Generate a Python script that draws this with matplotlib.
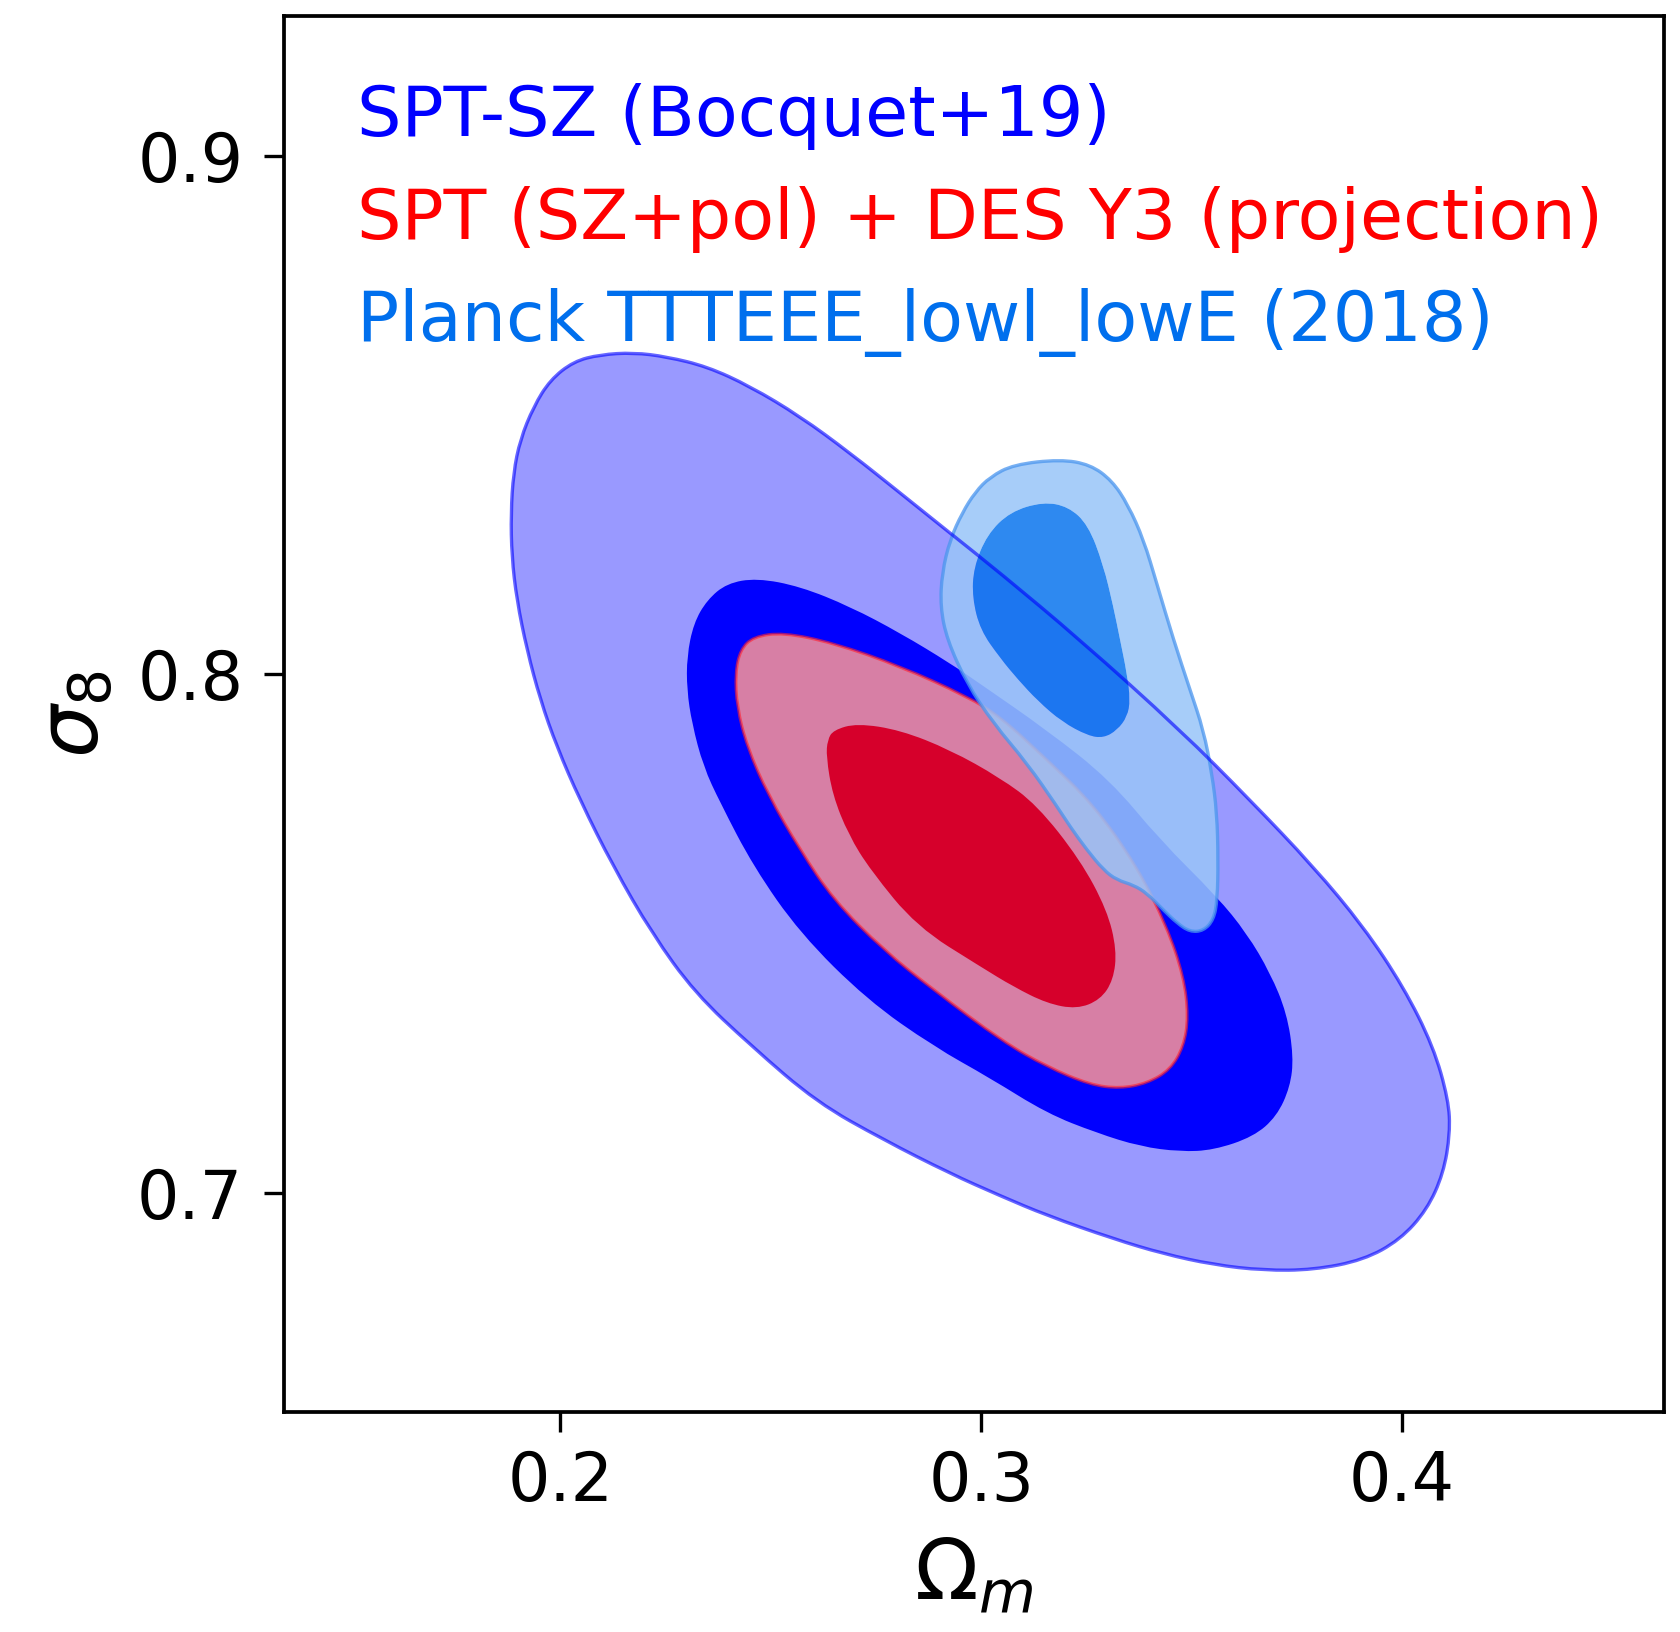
import numpy as np
import matplotlib.pyplot as plt
from matplotlib.path import Path
from matplotlib.patches import PathPatch

# contour outlines: (Omega_m, sigma_8)
spt_sz_2s_om = [0.2032, 0.2095, 0.2174, 0.2253, 0.2349, 0.2451, 0.2570, 0.2689, 0.2808, 0.2926,
                0.3045, 0.3235, 0.3473, 0.3639, 0.3789, 0.3908, 0.4003, 0.4074, 0.4110, 0.4114,
                0.4098, 0.4059, 0.3995, 0.3908, 0.3789, 0.3671, 0.3552, 0.3433, 0.3314, 0.3156,
                0.3045, 0.2926, 0.2768, 0.2610, 0.2455, 0.2320, 0.2218, 0.2126, 0.2047, 0.1992,
                0.1953, 0.1921, 0.1897, 0.1885, 0.1883, 0.1889, 0.1905, 0.1937, 0.1976]
spt_sz_2s_s8 = [0.8603, 0.8616, 0.8620, 0.8612, 0.8593, 0.8555, 0.8497, 0.8426, 0.8349, 0.8272,
                0.8195, 0.8066, 0.7892, 0.7757, 0.7629, 0.7513, 0.7397, 0.7282, 0.7179, 0.7115,
                0.7037, 0.6967, 0.6909, 0.6870, 0.6851, 0.6850, 0.6861, 0.6882, 0.6911, 0.6956,
                0.6994, 0.7037, 0.7102, 0.7174, 0.7282, 0.7385, 0.7500, 0.7629, 0.7757, 0.7860,
                0.7950, 0.8047, 0.8143, 0.8227, 0.8310, 0.8388, 0.8452, 0.8516, 0.8567]

spt_sz_1s_om = [0.2396, 0.2467, 0.2570, 0.2689, 0.2808, 0.2926, 0.2998, 0.3156, 0.3306, 0.3425,
                0.3560, 0.3631, 0.3687, 0.3726, 0.3742, 0.3734, 0.3702, 0.3647, 0.3552, 0.3473,
                0.3378, 0.3275, 0.3156, 0.3021, 0.2887, 0.2729, 0.2570, 0.2459, 0.2380, 0.2340,
                0.2313, 0.2301, 0.2301, 0.2317, 0.2349]
spt_sz_1s_s8 = [0.8175, 0.8185, 0.8169, 0.8130, 0.8079, 0.8021, 0.7981, 0.7892, 0.7796, 0.7680,
                0.7571, 0.7500, 0.7423, 0.7346, 0.7262, 0.7204, 0.7147, 0.7108, 0.7082, 0.7079,
                0.7089, 0.7115, 0.7153, 0.7221, 0.7282, 0.7372, 0.7500, 0.7629, 0.7752, 0.7822,
                0.7905, 0.7970, 0.8034, 0.8098, 0.8143]

des_2s_om = [0.2459, 0.2530, 0.2649, 0.2808, 0.2966, 0.3045, 0.3156, 0.3267, 0.3370, 0.3441,
             0.3481, 0.3492, 0.3481, 0.3449, 0.3394, 0.3330, 0.3259, 0.3156, 0.3052, 0.2887,
             0.2768, 0.2649, 0.2570, 0.2494, 0.2444, 0.2420, 0.2416, 0.2428]
des_2s_s8 = [0.8072, 0.8080, 0.8060, 0.8015, 0.7957, 0.7918, 0.7835, 0.7748, 0.7629, 0.7513,
             0.7417, 0.7339, 0.7282, 0.7237, 0.7211, 0.7201, 0.7208, 0.7243, 0.7291, 0.7391,
             0.7468, 0.7565, 0.7661, 0.7767, 0.7860, 0.7937, 0.8002, 0.8047]

des_1s_om = [0.2649, 0.2705, 0.2808, 0.2926, 0.3045, 0.3132, 0.3235, 0.3299, 0.3322, 0.3314,
             0.3283, 0.3227, 0.3156, 0.3077, 0.2998, 0.2847, 0.2737, 0.2685, 0.2647, 0.2632,
             0.2635]
des_1s_s8 = [0.7892, 0.7905, 0.7892, 0.7854, 0.7800, 0.7748, 0.7642, 0.7545, 0.7468, 0.7410,
             0.7372, 0.7354, 0.7365, 0.7397, 0.7436, 0.7513, 0.7622, 0.7690, 0.7767, 0.7841,
             0.7873]

planck_2s_om = [0.3077, 0.3188, 0.3259, 0.3311, 0.3349, 0.3386, 0.3417, 0.3457, 0.3496, 0.3528,
                0.3548, 0.3560, 0.3563, 0.3561, 0.3552, 0.3528, 0.3496, 0.3465, 0.3433, 0.3394,
                0.3362, 0.3322, 0.3291, 0.3251, 0.3211, 0.3180, 0.3109, 0.3029, 0.2966, 0.2919,
                0.2903, 0.2907, 0.2926, 0.2955, 0.2986, 0.3021]
planck_2s_s8 = [0.8404, 0.8414, 0.8404, 0.8373, 0.8326, 0.8259, 0.8175, 0.8066, 0.7970, 0.7892,
                0.7809, 0.7732, 0.7642, 0.7565, 0.7526, 0.7505, 0.7503, 0.7520, 0.7545, 0.7577,
                0.7593, 0.7603, 0.7622, 0.7661, 0.7706, 0.7745, 0.7828, 0.7905, 0.7982, 0.8066,
                0.8130, 0.8195, 0.8259, 0.8311, 0.8351, 0.8380]

planck_1s_om = [0.3069, 0.3147, 0.3207, 0.3254, 0.3290, 0.3314, 0.3330, 0.3346, 0.3354, 0.3347,
                0.3323, 0.3291, 0.3254, 0.3192, 0.3135, 0.3088, 0.3045, 0.2998, 0.2979, 0.2982,
                0.3014]
planck_1s_s8 = [0.8313, 0.8332, 0.8323, 0.8288, 0.8211, 0.8130, 0.8066, 0.8002, 0.7950, 0.7918,
                0.7892, 0.7877, 0.7881, 0.7908, 0.7948, 0.7989, 0.8031, 0.8085, 0.8147, 0.8205,
                0.8269]

labels = ["SPT-SZ (Bocquet+19)",
          "SPT (SZ+pol) + DES Y3 (projection)",
          "Planck TTTEEE_lowl_lowE (2018)"]
label_colors = ["#0000ff", "#ff0000", "#006FED"]

x_ticks = [0.2, 0.3, 0.4]
y_ticks = [0.7, 0.8, 0.9]


def contour_path(xs, ys):
    # closed smooth outline: traced points act as quadratic bezier control points
    v = np.column_stack([xs, ys])
    mids = 0.5 * (v + np.roll(v, -1, axis=0))
    verts = [mids[-1]]
    codes = [Path.MOVETO]
    for p, m in zip(v, mids):
        verts += [p, m]
        codes += [Path.CURVE3, Path.CURVE3]
    verts.append(mids[-1])
    codes.append(Path.CLOSEPOLY)
    return Path(verts, codes)


def fill(ax, path, **kw):
    ax.add_patch(PathPatch(path, **kw))


fig = plt.figure(figsize=(5.6, 5.44), dpi=300)
ax = fig.add_axes([0.16905, 0.1348, 0.82143, 0.85539])

# SPT-SZ
spt2 = contour_path(spt_sz_2s_om, spt_sz_2s_s8)
spt1 = contour_path(spt_sz_1s_om, spt_sz_1s_s8)
fill(ax, spt2, facecolor="#9999ff", lw=0, zorder=1)
fill(ax, spt1, facecolor="#0000ff", lw=0, zorder=2)

# SPT + DES projection
des2 = contour_path(des_2s_om, des_2s_s8)
des1 = contour_path(des_1s_om, des_1s_s8)
fill(ax, des2, facecolor="#d77fa5", lw=0, zorder=3)
fill(ax, des1, facecolor="#d6002b", lw=0, zorder=4)
fill(ax, des2, fill=False, edgecolor="#ff2030", alpha=0.6, lw=0.7, zorder=5)

# Planck: outer ring (hole where the inner contour is) + inner region
pl2 = contour_path(planck_2s_om, planck_2s_s8)
pl1 = contour_path(planck_1s_om, planck_1s_s8)
pl1_rev = contour_path(planck_1s_om[::-1], planck_1s_s8[::-1])
ring = Path.make_compound_path(pl2, pl1_rev)
fill(ax, ring, facecolor=(153/255, 197/255, 248/255), alpha=0.86, lw=0, zorder=6)
fill(ax, pl1, facecolor="#006FED", alpha=0.82, lw=0, zorder=7)
fill(ax, pl2, fill=False, edgecolor="#4a95ee", alpha=0.75, lw=0.8, zorder=8)

# outer SPT-SZ edge drawn on top
fill(ax, spt2, fill=False, edgecolor="#0000ff", alpha=0.6, lw=0.8, zorder=9)

ax.set_xlim(0.1344, 0.4622)
ax.set_ylim(0.6577, 0.9269)
ax.set_xticks(x_ticks)
ax.set_yticks(y_ticks)
ax.set_xticklabels([str(t) for t in x_ticks])
ax.set_yticklabels([str(t) for t in y_ticks])
ax.tick_params(axis="both", length=4.8, width=0.8, labelsize=16)
ax.tick_params(axis="x", pad=4.0)
ax.tick_params(axis="y", pad=5.0)
for s in ax.spines.values():
    s.set_linewidth(0.9)

ax.set_xlabel(r"$\Omega_m$", fontsize=20, labelpad=5)
ax.set_ylabel(r"$\sigma_8$", fontsize=20, labelpad=5)

for i, (lab, col) in enumerate(zip(labels, label_colors)):
    ax.text(0.0529, 0.914 - 0.0735 * i, lab, color=col, fontsize=16.8,
            transform=ax.transAxes, ha="left", va="baseline", zorder=10)

fig.savefig("out.png", dpi=300)
